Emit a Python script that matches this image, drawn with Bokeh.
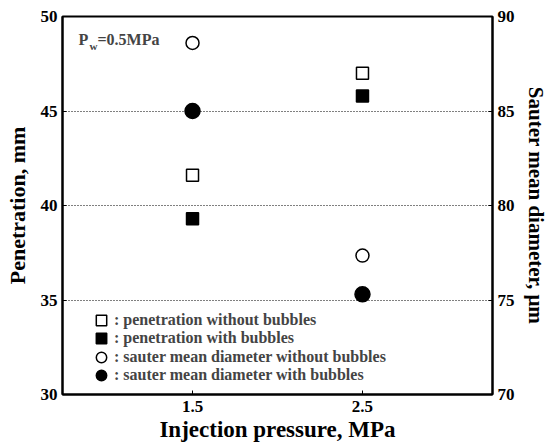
from bokeh.plotting import figure
from bokeh.models import Range1d, LinearAxis, FixedTicker, Legend, LegendItem, Label
from bokeh.embed import file_html
from bokeh.resources import INLINE

pressure = [1.5, 2.5]
pen_without = [41.6, 47.0]
pen_with = [39.3, 45.8]
smd_without = [88.6, 77.35]
smd_with = [85.0, 75.3]
x_ticks = [1.5, 2.5]
legend_labels = [": penetration without bubbles", ": penetration with bubbles",
                 ": sauter mean diameter without bubbles", ": sauter mean diameter with bubbles"]

FONT = "Liberation Serif"

p = figure(output_backend="svg", toolbar_location=None,
           frame_width=430, frame_height=378,
           min_border_left=62, min_border_right=56, min_border_top=16, min_border_bottom=50,
           x_range=Range1d(0.735, 3.265), y_range=Range1d(30, 50))
p.extra_y_ranges = {"smd": Range1d(70, 90)}
p.background_fill_color = "white"
p.outline_line_color = "black"
p.outline_line_width = 2

p.xgrid.visible = False
p.ygrid.ticker = FixedTicker(ticks=[35, 40, 45])
p.ygrid.grid_line_color = "black"
p.ygrid.grid_line_dash = "1 2"
p.ygrid.grid_line_width = 1

def style_axis(ax, label_size):
    ax.axis_line_color = "black"
    ax.axis_line_width = 2
    ax.major_tick_in = 4
    ax.major_tick_out = 0
    ax.minor_tick_line_color = None
    ax.major_label_text_font = FONT
    ax.major_label_text_font_style = "bold"
    ax.major_label_text_font_size = "17px"
    ax.major_label_text_color = "black"
    ax.axis_label_text_font = FONT
    ax.axis_label_text_font_style = "bold"
    ax.axis_label_text_font_size = label_size
    ax.axis_label_text_color = "black"
    ax.major_label_standoff = 5

p.xaxis.ticker = FixedTicker(ticks=x_ticks)
p.xaxis.axis_label = "Injection pressure, MPa"
p.yaxis.ticker = FixedTicker(ticks=[30, 35, 40, 45, 50])
p.yaxis.axis_label = "Penetration, mm"
style_axis(p.xaxis[0], "23px")
style_axis(p.yaxis[0], "22px")
p.xaxis.major_label_standoff = 6
p.xaxis.axis_label_standoff = 2
p.yaxis.axis_label_standoff = 8

right = LinearAxis(y_range_name="smd", ticker=FixedTicker(ticks=[70, 75, 80, 85, 90]),
                   axis_label="Sauter mean diameter, \u03bcm")
style_axis(right, "21px")
right.major_label_standoff = 5
right.axis_label_standoff = 6
p.add_layout(right, "right")

r1 = p.scatter(pressure, pen_without, marker="square", size=12, fill_color="white",
               line_color="black", line_width=1.5)
r2 = p.scatter(pressure, pen_with, marker="square", size=12, fill_color="black",
               line_color="black", line_width=1.5)
r3 = p.scatter(pressure, smd_without, marker="circle", size=13, fill_color="white",
               line_color="black", line_width=1.5, y_range_name="smd")
r4 = p.scatter(pressure, smd_with, marker="circle", size=15, fill_color="black",
               line_color="black", line_width=1.5, y_range_name="smd")

# one legend per row so that the key markers can be large while rows stay 18px apart
row_bottoms = [61, 43, 24, 6]
for lab, rend, yb in zip(legend_labels, [r1, r2, r3, r4], row_bottoms):
    lg = Legend(items=[LegendItem(label=lab, renderers=[rend])],
                location=(26, yb), padding=0, spacing=0, margin=0,
                label_height=26, glyph_height=26, glyph_width=26, label_standoff=-4,
                label_text_font=FONT, label_text_font_style="bold", label_text_font_size="16px",
                border_line_color=None, background_fill_alpha=0)
    p.add_layout(lg, "center")

p.add_layout(Label(x=16, y=347, x_units="screen", y_units="screen", text="P",
                   text_font=FONT, text_font_style="bold", text_font_size="16px",
                   text_baseline="bottom"))
p.add_layout(Label(x=27, y=343, x_units="screen", y_units="screen", text="w",
                   text_font=FONT, text_font_style="bold", text_font_size="11px",
                   text_baseline="bottom"))
p.add_layout(Label(x=35, y=347, x_units="screen", y_units="screen", text="=0.5MPa",
                   text_font=FONT, text_font_style="bold", text_font_size="16px",
                   text_baseline="bottom"))

open("out.html", "w").write(file_html(p, INLINE))
